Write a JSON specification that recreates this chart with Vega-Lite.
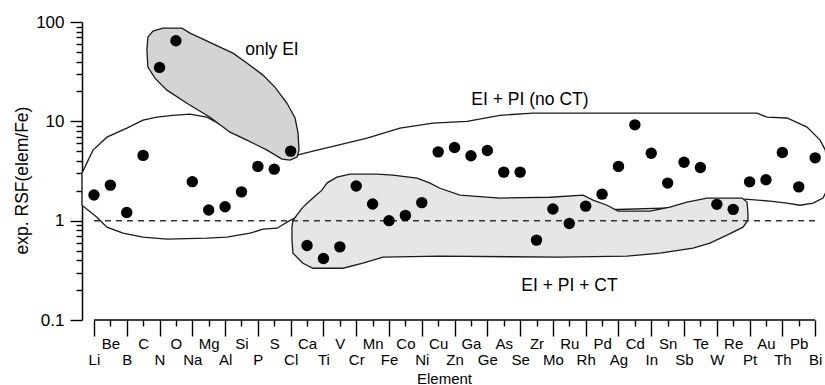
{
  "$schema": "https://vega.github.io/schema/vega-lite/v6.json",
  "autosize": "none",
  "width": 743,
  "height": 298,
  "padding": {"left": 82, "top": 22, "right": 0, "bottom": 65},
  "background": "white",
  "config": {
    "view": {"stroke": null},
    "font": "Liberation Sans",
    "axis": {"grid": false, "labelColor": "black", "titleColor": "black", "tickColor": "black", "domainColor": "black", "titleFontWeight": "normal"}
  },
  "datasets": {
    "points": [
      {"el": "Li", "x": 0, "y": 1.81}, {"el": "Be", "x": 1, "y": 2.28}, {"el": "B", "x": 2, "y": 1.21},
      {"el": "C", "x": 3, "y": 4.54}, {"el": "N", "x": 4, "y": 34.9}, {"el": "O", "x": 5, "y": 64.7},
      {"el": "Na", "x": 6, "y": 2.47}, {"el": "Mg", "x": 7, "y": 1.28}, {"el": "Al", "x": 8, "y": 1.38},
      {"el": "Si", "x": 9, "y": 1.95}, {"el": "P", "x": 10, "y": 3.52}, {"el": "S", "x": 11, "y": 3.30},
      {"el": "Cl", "x": 12, "y": 5.01}, {"el": "Ca", "x": 13, "y": 0.563}, {"el": "Ti", "x": 14, "y": 0.416},
      {"el": "V", "x": 15, "y": 0.545}, {"el": "Cr", "x": 16, "y": 2.23}, {"el": "Mn", "x": 17, "y": 1.47},
      {"el": "Fe", "x": 18, "y": 1.0}, {"el": "Co", "x": 19, "y": 1.13}, {"el": "Ni", "x": 20, "y": 1.52},
      {"el": "Cu", "x": 21, "y": 4.93}, {"el": "Zn", "x": 22, "y": 5.46}, {"el": "Ga", "x": 23, "y": 4.50},
      {"el": "Ge", "x": 24, "y": 5.09}, {"el": "As", "x": 25, "y": 3.08}, {"el": "Se", "x": 26, "y": 3.08},
      {"el": "Zr", "x": 27, "y": 0.637}, {"el": "Mo", "x": 28, "y": 1.31}, {"el": "Ru", "x": 29, "y": 0.937},
      {"el": "Rh", "x": 30, "y": 1.40}, {"el": "Pd", "x": 31, "y": 1.85}, {"el": "Ag", "x": 32, "y": 3.52},
      {"el": "Cd", "x": 33, "y": 9.22}, {"el": "In", "x": 34, "y": 4.78}, {"el": "Sn", "x": 35, "y": 2.39},
      {"el": "Sb", "x": 36, "y": 3.88}, {"el": "Te", "x": 37, "y": 3.43}, {"el": "W", "x": 38, "y": 1.46},
      {"el": "Re", "x": 39, "y": 1.30}, {"el": "Pt", "x": 40, "y": 2.46}, {"el": "Au", "x": 41, "y": 2.58},
      {"el": "Th", "x": 42, "y": 4.86}, {"el": "Pb", "x": 43, "y": 2.19}, {"el": "Bi", "x": 44, "y": 4.29}
    ],
    "noct": [
      {"i": 0, "x": -0.73, "y": 3.01}, {"i": 1, "x": -0.06, "y": 5.13}, {"i": 2, "x": 0.79, "y": 6.93},
      {"i": 3, "x": 2.01, "y": 8.54}, {"i": 4, "x": 2.99, "y": 10.3}, {"i": 5, "x": 3.84, "y": 11.0},
      {"i": 6, "x": 4.82, "y": 11.5}, {"i": 7, "x": 5.86, "y": 11.8}, {"i": 8, "x": 6.89, "y": 11.0},
      {"i": 9, "x": 8.91, "y": 7.26}, {"i": 10, "x": 10.74, "y": 5.13}, {"i": 11, "x": 11.96, "y": 4.46},
      {"i": 12, "x": 12.39, "y": 4.57}, {"i": 13, "x": 13.61, "y": 5.13}, {"i": 14, "x": 14.58, "y": 5.6},
      {"i": 15, "x": 16.66, "y": 6.77}, {"i": 16, "x": 18.67, "y": 8.54}, {"i": 17, "x": 20.68, "y": 9.59},
      {"i": 18, "x": 22.76, "y": 10.0}, {"i": 19, "x": 24.77, "y": 11.5}, {"i": 20, "x": 26.78, "y": 12.1},
      {"i": 21, "x": 30.87, "y": 12.1}, {"i": 22, "x": 40.45, "y": 12.1}, {"i": 23, "x": 41.06, "y": 11.0},
      {"i": 24, "x": 42.28, "y": 10.8}, {"i": 25, "x": 43.5, "y": 8.74}, {"i": 26, "x": 44.3, "y": 6.47},
      {"i": 27, "x": 44.62, "y": 5.13}, {"i": 28, "x": 44.78, "y": 3.0}, {"i": 29, "x": 44.7, "y": 2.0},
      {"i": 30, "x": 44.48, "y": 1.69}, {"i": 31, "x": 43.87, "y": 1.5}, {"i": 32, "x": 43.08, "y": 1.43},
      {"i": 33, "x": 42.28, "y": 1.5}, {"i": 34, "x": 41.25, "y": 1.57}, {"i": 35, "x": 39.72, "y": 1.65},
      {"i": 36, "x": 39.0, "y": 1.4}, {"i": 37, "x": 30.87, "y": 1.28}, {"i": 38, "x": 18.67, "y": 1.13},
      {"i": 39, "x": 12.57, "y": 1.06}, {"i": 40, "x": 12.14, "y": 1.04}, {"i": 41, "x": 11.78, "y": 0.966},
      {"i": 42, "x": 11.17, "y": 0.84}, {"i": 43, "x": 10.31, "y": 0.821}, {"i": 44, "x": 9.52, "y": 0.748},
      {"i": 45, "x": 8.11, "y": 0.682}, {"i": 46, "x": 6.89, "y": 0.667}, {"i": 47, "x": 4.45, "y": 0.652},
      {"i": 48, "x": 2.99, "y": 0.682}, {"i": 49, "x": 1.77, "y": 0.748}, {"i": 50, "x": 0.79, "y": 0.86},
      {"i": 51, "x": 0.18, "y": 1.08}, {"i": 52, "x": -0.73, "y": 1.43}
    ],
    "ct": [
      {"i": 0, "x": 12.14, "y": 1.01}, {"i": 1, "x": 12.75, "y": 1.37}, {"i": 2, "x": 13.36, "y": 1.69},
      {"i": 3, "x": 13.91, "y": 2.03}, {"i": 4, "x": 14.21, "y": 2.39}, {"i": 5, "x": 14.82, "y": 2.74},
      {"i": 6, "x": 15.62, "y": 2.94}, {"i": 7, "x": 17.27, "y": 2.94}, {"i": 8, "x": 18.24, "y": 2.87},
      {"i": 9, "x": 19.71, "y": 2.68}, {"i": 10, "x": 20.5, "y": 2.39}, {"i": 11, "x": 21.11, "y": 2.12},
      {"i": 12, "x": 22.33, "y": 1.81}, {"i": 13, "x": 24.77, "y": 1.69}, {"i": 14, "x": 27.82, "y": 1.72},
      {"i": 15, "x": 29.84, "y": 1.81}, {"i": 16, "x": 30.45, "y": 1.61}, {"i": 17, "x": 31.3, "y": 1.43},
      {"i": 18, "x": 31.97, "y": 1.25}, {"i": 19, "x": 33.92, "y": 1.25}, {"i": 20, "x": 35.14, "y": 1.37},
      {"i": 21, "x": 36.18, "y": 1.54}, {"i": 22, "x": 37.4, "y": 1.69}, {"i": 23, "x": 39.54, "y": 1.69},
      {"i": 24, "x": 39.84, "y": 1.54}, {"i": 25, "x": 39.9, "y": 1.19}, {"i": 26, "x": 39.9, "y": 1.01},
      {"i": 27, "x": 39.6, "y": 0.86}, {"i": 28, "x": 38.62, "y": 0.715}, {"i": 29, "x": 37.58, "y": 0.593},
      {"i": 30, "x": 36.55, "y": 0.529}, {"i": 31, "x": 34.53, "y": 0.471}, {"i": 32, "x": 32.52, "y": 0.439},
      {"i": 33, "x": 28.43, "y": 0.429}, {"i": 34, "x": 21.11, "y": 0.439}, {"i": 35, "x": 17.63, "y": 0.429},
      {"i": 36, "x": 16.41, "y": 0.373}, {"i": 37, "x": 15.19, "y": 0.332}, {"i": 38, "x": 13.36, "y": 0.332},
      {"i": 39, "x": 12.75, "y": 0.373}, {"i": 40, "x": 12.14, "y": 0.471}, {"i": 41, "x": 12.08, "y": 0.637},
      {"i": 42, "x": 12.08, "y": 0.86}
    ],
    "ei": [
      {"i": 0, "x": 3.29, "y": 70.5}, {"i": 1, "x": 3.6, "y": 81.0}, {"i": 2, "x": 4.21, "y": 86.8},
      {"i": 3, "x": 5.37, "y": 86.8}, {"i": 4, "x": 5.86, "y": 77.3}, {"i": 5, "x": 6.65, "y": 67.3},
      {"i": 6, "x": 7.69, "y": 55.9}, {"i": 7, "x": 8.48, "y": 48.6}, {"i": 8, "x": 9.33, "y": 38.6},
      {"i": 9, "x": 10.31, "y": 29.2}, {"i": 10, "x": 11.04, "y": 22.1}, {"i": 11, "x": 11.78, "y": 15.2},
      {"i": 12, "x": 12.27, "y": 10.8}, {"i": 13, "x": 12.45, "y": 7.6}, {"i": 14, "x": 12.51, "y": 5.13},
      {"i": 15, "x": 12.39, "y": 4.36}, {"i": 16, "x": 11.96, "y": 4.07}, {"i": 17, "x": 11.47, "y": 4.16},
      {"i": 18, "x": 10.56, "y": 5.13}, {"i": 19, "x": 9.33, "y": 6.47}, {"i": 20, "x": 8.3, "y": 7.78},
      {"i": 21, "x": 7.08, "y": 11.0}, {"i": 22, "x": 5.67, "y": 15.2}, {"i": 23, "x": 4.45, "y": 20.6},
      {"i": 24, "x": 3.72, "y": 27.2}, {"i": 25, "x": 3.29, "y": 35.2}, {"i": 26, "x": 3.23, "y": 52.1}
    ],
    "labels": [
      {"label": "only EI", "x": 10.86, "y": 46.4},
      {"label": "EI + PI (no CT)", "x": 26.6, "y": 14.56},
      {"label": "EI + PI + CT", "x": 29.01, "y": 0.195}
    ],
    "rules": [
      {"kind": "dash", "x": 0, "x2": 44, "y": 1},
      {"kind": "base", "x": 0, "x2": 44, "y": 0.1}
    ]
  },
  "encoding": {
    "x": {
      "field": "x", "type": "quantitative",
      "scale": {"domain": [-0.73, 44.6], "nice": false, "zero": false},
      "axis": {
        "domain": false,
        "values": [0,1,2,3,4,5,6,7,8,9,10,11,12,13,14,15,16,17,18,19,20,21,22,23,24,25,26,27,28,29,30,31,32,33,34,35,36,37,38,39,40,41,42,43,44],
        "labelExpr": "['Li','Be','B','C','N','O','Na','Mg','Al','Si','P','S','Cl','Ca','Ti','V','Cr','Mn','Fe','Co','Ni','Cu','Zn','Ga','Ge','As','Se','Zr','Mo','Ru','Rh','Pd','Ag','Cd','In','Sn','Sb','Te','W','Re','Pt','Au','Th','Pb','Bi'][round(datum.value)]",
        "tickSize": {"condition": {"test": "round(datum.value) % 2 == 0", "value": 16}, "value": 6},
        "labelPadding": {"condition": {"test": "round(datum.value) % 2 == 0", "value": 16}, "value": 10},
        "tickWidth": 1.4,
        "labelFontSize": 15,
        "labelAngle": 0,
        "labelOverlap": false,
        "labelFlush": false,
        "labelBound": false,
        "title": "Element",
        "titleFontSize": 15,
        "titleX": 362,
        "titleY": 51,
        "titleAnchor": null,
        "titleBaseline": "top"
      }
    },
    "y": {
      "field": "y", "type": "quantitative",
      "scale": {"type": "log", "domain": [0.1, 100], "nice": false},
      "axis": {
        "values": [0.1,0.2,0.3,0.4,0.5,0.6,0.7,0.8,0.9,1,2,3,4,5,6,7,8,9,10,20,30,40,50,60,70,80,90,100],
        "labelExpr": "abs(log(datum.value)/LN10 - round(log(datum.value)/LN10)) < 0.001 ? format(datum.value, '~g') : ''",
        "tickSize": {"condition": {"test": "abs(log(datum.value)/LN10 - round(log(datum.value)/LN10)) < 0.001", "value": 12}, "value": 6},
        "tickWidth": 1.4,
        "domainWidth": 1.5,
        "labelPadding": 6,
        "labelFontSize": 17,
        "labelOverlap": false,
        "labelFlush": false,
        "labelBound": false,
        "title": "exp. RSF(elem/Fe)",
        "titleFontSize": 17.5,
        "titleX": -60,
        "titleY": 158,
        "titleAngle": -90,
        "titleAlign": "center",
        "titleBaseline": "middle"
      }
    }
  },
  "layer": [
    {
      "data": {"name": "noct"},
      "mark": {"type": "line", "interpolate": "linear-closed", "fill": "white", "stroke": "#1a1a1a", "strokeWidth": 1.3},
      "encoding": {"order": {"field": "i", "type": "quantitative"}}
    },
    {
      "data": {"name": "ct"},
      "mark": {"type": "line", "interpolate": "linear-closed", "fill": "#e6e6e6", "stroke": "#1a1a1a", "strokeWidth": 1.3},
      "encoding": {"order": {"field": "i", "type": "quantitative"}}
    },
    {
      "data": {"name": "ei"},
      "mark": {"type": "line", "interpolate": "linear-closed", "fill": "#d4d4d4", "stroke": "#1a1a1a", "strokeWidth": 1.3},
      "encoding": {"order": {"field": "i", "type": "quantitative"}}
    },
    {
      "data": {"name": "rules"},
      "transform": [{"filter": "datum.kind == 'dash'"}],
      "mark": {"type": "rule", "color": "#333", "strokeWidth": 1.5, "strokeDash": [6, 5]},
      "encoding": {"x2": {"field": "x2"}}
    },
    {
      "data": {"name": "rules"},
      "transform": [{"filter": "datum.kind == 'base'"}],
      "mark": {"type": "rule", "color": "black", "strokeWidth": 1.5},
      "encoding": {"x2": {"field": "x2"}}
    },
    {
      "data": {"name": "points"},
      "mark": {"type": "point", "filled": true, "color": "black", "opacity": 1, "size": 130, "shape": "circle"},
      "encoding": {}
    },
    {
      "data": {"name": "labels"},
      "mark": {"type": "text", "fontSize": 17.5, "color": "black", "align": "center", "baseline": "alphabetic", "font": "Liberation Sans"},
      "encoding": {"text": {"field": "label"}}
    }
  ]
}
